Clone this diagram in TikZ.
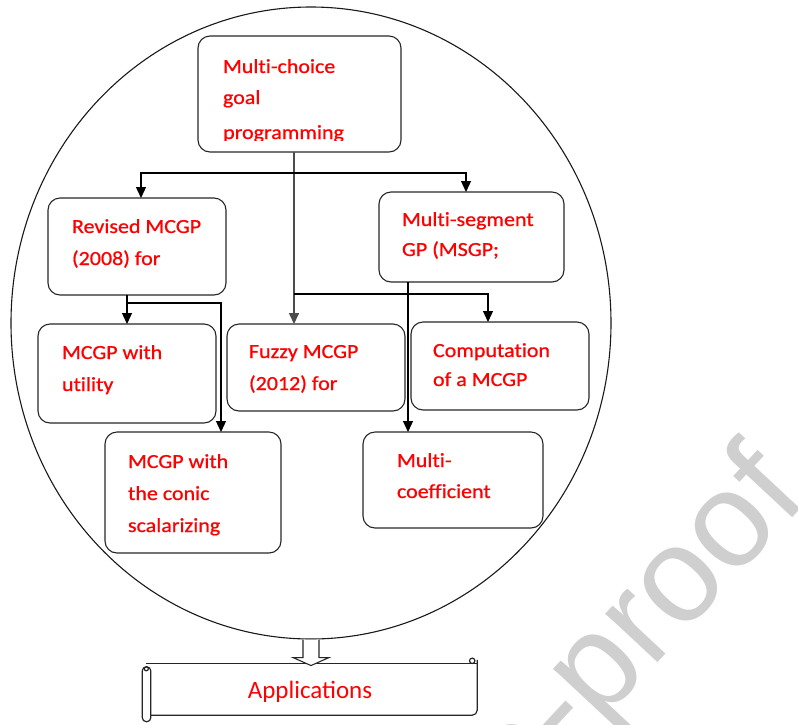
\documentclass[tikz,border=0pt]{standalone}
\usepackage{fontspec}
\setmainfont{Carlito}
\newfontfamily\boxfont[FakeStretch=1.1,FakeBold=0.8,Ligatures=NoCommon]{Carlito}
\newfontfamily\markfont{Liberation Sans}
\usetikzlibrary{arrows.meta,shapes.geometric,calc}

% Text block of a rounded box: width, height, left padding,
% first baseline from the top, line spacing, lines
\newcommand\boxtxt[6]{%
  \parbox[t][#2][t]{#1}{\boxfont\fontsize{20pt}{#5}\selectfont
    \leftskip=#3\relax\rule{0pt}{#4}#6}}

\begin{document}
\begin{tikzpicture}[x=1pt,y=-1pt,
  box/.style={draw=black!85, line width=1.1pt, rounded corners=12pt,
    inner sep=0pt, outer sep=0pt, anchor=north west, text=red},
  conn/.style={draw=black, line width=1.2pt,
    -{Triangle[length=11pt,width=10pt]}},
  stem/.style={conn, draw=black!70, line width=1.6pt},
  scrollline/.style={draw=black!85, line width=1.2pt},
  blockarrow/.style={draw=black!85, line width=1.1pt, fill=white}]

\useasboundingbox (0,0) rectangle (798,724);

% watermark
\begin{scope}
  \clip (0,0) rectangle (798,724);
  \node[rotate=47, anchor=base east, inner sep=0pt, text=black!19,
    font=\markfont\fontsize{135pt}{135pt}\selectfont] (wm) at (810,499)
    {Journal Pre-proof};
\end{scope}

% enclosing circle
\node[draw=black!90, line width=1.1pt, ellipse, minimum width=600pt,
  minimum height=632pt, inner sep=0pt] (ring) at (311,323) {};

% boxes
\node[box] (mcgp) at (198,36)
  {\boxtxt{203pt}{116pt}{25pt}{37pt}{31pt}{Multi-choice\\goal}};
\begin{scope}
  \clip (198,36) rectangle (401,140);
  \node[anchor=base west, inner sep=0pt, text=red,
    font=\boxfont\fontsize{20pt}{31pt}\selectfont] (mcgpcut) at (223,139)
    {programming};
\end{scope}
\node[box] (rev) at (48,198)
  {\boxtxt{178pt}{97pt}{24pt}{35pt}{32pt}{Revised MCGP\\(2008) for}};
\node[box] (msgp) at (379,192)
  {\boxtxt{185pt}{90pt}{23pt}{34pt}{30pt}{Multi-segment\\GP (MSGP;}};
\node[box] (util) at (38,324)
  {\boxtxt{178pt}{99pt}{24pt}{35pt}{32pt}{MCGP with\\utility}};
\node[box] (fuzzy) at (227,324)
  {\boxtxt{178pt}{87pt}{22pt}{34pt}{32pt}{Fuzzy MCGP\\(2012) for}};
\node[box] (comp) at (411,322)
  {\boxtxt{178pt}{88pt}{22pt}{35pt}{29pt}{Computation\\of a MCGP}};
\node[box] (conic) at (105,432)
  {\boxtxt{176pt}{121pt}{23pt}{36pt}{32pt}{MCGP with\\the conic\\scalarizing}};
\node[box] (coef) at (363,432)
  {\boxtxt{180pt}{96pt}{34pt}{35pt}{31pt}{Multi-\\coefficient}};

% junctions
\coordinate (j1) at (294,173);
\coordinate (j3) at (294,294);
\coordinate (j2) at (127,303);

% connectors
\draw[stem] ($(mcgp.south)+(-5.5,0)$) -- ($(mcgp.south |- fuzzy.north)+(-5.5,0)$);
\draw[conn] (j1) -| ($(rev.north)+(4,0)$);
\draw[conn] (j1) -| ($(msgp.north)+(-5.5,0)$);
\draw[conn] (j3) -| ($(comp.north)+(-12,0)$);
\draw[conn] ($(rev.south)+(-10,0)$) -- (util.north);
\draw[conn] (j2) -| ($(conic.north)+(28,0)$);
\draw[conn] ($(msgp.south)+(-63.5,0)$) -- ($(coef.north)+(-45,0)$);

% scroll
\node[minimum width=327pt, minimum height=51pt, inner sep=0pt,
  text height=17pt, text depth=0pt, text=red,
  font=\fontsize{25pt}{30pt}\selectfont] (apps) at (313.5,689.5)
  {\hspace*{-7pt}Applications};
\draw[scrollline] ($(apps.north west)+(-4,0)$) -- (apps.north east);
\draw[scrollline, rounded corners=5pt] ($(apps.north east)+(0,-4)$)
  -- (apps.south east) -- (apps.south west);
\draw[scrollline] ($(apps.north east)+(-5,-3)$) circle[radius=2.7pt];
\draw[scrollline, fill=white, rounded corners=4pt]
  ($(apps.north west)+(-7.5,3)$) rectangle ($(apps.south west)+(1,6.5)$);
\draw[scrollline] ($(apps.north west)+(-3.5,5)$) circle[radius=2pt];

% hollow arrow from the circle to the scroll
\draw[blockarrow] ($(ring.south)+(-8,0)$) -- ++(0,18) -- ++(-10,0)
  -- ++(18,8) -- ++(18,-8) -- ++(-10,0) -- ++(0,-18);

\end{tikzpicture}
\end{document}
